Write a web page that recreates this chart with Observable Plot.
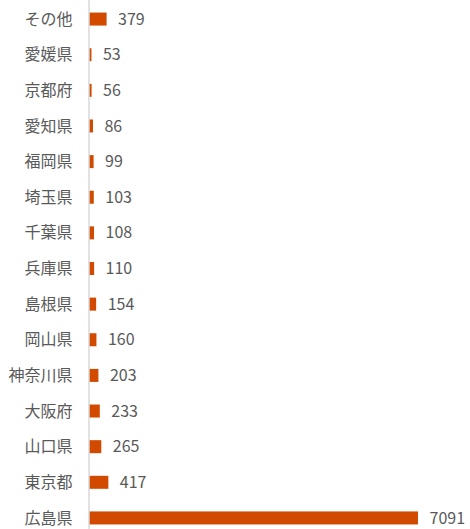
<!DOCTYPE html>
<html><head><meta charset="utf-8">
<script src="https://cdn.jsdelivr.net/npm/d3@7"></script>
<script src="https://cdn.jsdelivr.net/npm/@observablehq/plot@0.6"></script>
<style>body{margin:0;background:#fff}</style>
</head><body><div id="chart"></div>
<script>
const categories = ["その他","愛媛県","京都府","愛知県","福岡県","埼玉県","千葉県","兵庫県","島根県","岡山県","神奈川県","大阪府","山口県","東京都","広島県"];
const values = [379,53,56,86,99,103,108,110,154,160,203,233,265,417,7091];
const data = categories.map((c,i)=>({name:c, value:values[i]}));
const font = "'Noto Sans CJK JP', 'Noto Sans', sans-serif";
const chart = Plot.plot({
  width: 470, height: 529,
  marginLeft: 89, marginRight: 52, marginTop: 9, marginBottom: 1,
  style: {fontFamily: font, color: "#595959", background: "#fff"},
  x: {domain: [0, 7091], axis: null},
  y: {domain: categories, paddingInner: 0.635, paddingOuter: 0.1, round: false, label: null},
  marks: [
    Plot.barX(data, {x: "value", y: "name", fill: "#D24A00"}),
    Plot.ruleX([0], {stroke: "#d9d9d9", strokeWidth: 1.5, insetTop: -9, insetBottom: -1, dx: -0.5}),
    Plot.text(data, {x: "value", y: "name", text: d => String(d.value), textAnchor: "start", dx: 11, fontSize: 16, fill: "#595959"}),
    Plot.axisY({tickSize: 0, tickPadding: 17, fontSize: 16, fill: "#595959", label: null})
  ]
});
document.getElementById("chart").append(chart);
</script></body></html>
